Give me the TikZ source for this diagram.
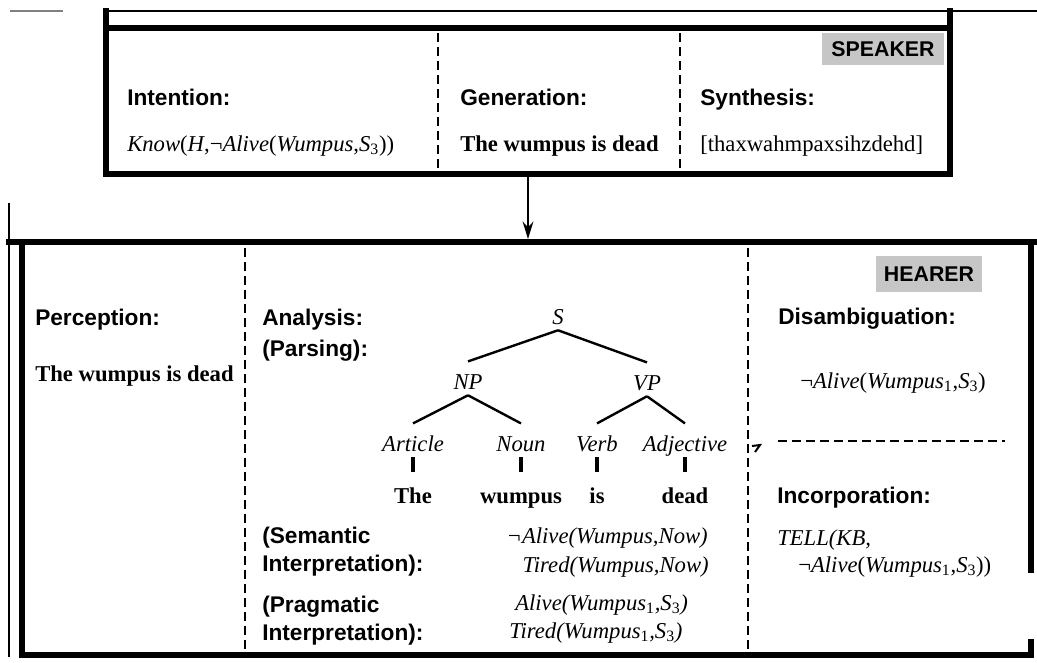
\documentclass[tikz,border=0pt]{standalone}
\usepackage{fontspec}
\setmainfont{Liberation Serif}
\setsansfont{Liberation Sans}
\usetikzlibrary{arrows.meta}
\newcommand{\sbs}[1]{\textsubscript{\upshape #1}}
\tikzset{
  lab/.style={font=\sffamily\bfseries\fontsize{17}{20}\selectfont, anchor=base west, inner sep=0pt},
  txt/.style={font=\fontsize{17}{20}\selectfont, anchor=base west, inner sep=0pt},
  btxt/.style={font=\bfseries\fontsize{17}{20}\selectfont, anchor=base west, inner sep=0pt},
  tree/.style={font=\itshape\fontsize{17}{20}\selectfont, anchor=base, inner xsep=0pt, inner ysep=4.5pt, text height=16pt, text depth=0pt},
  word/.style={font=\bfseries\fontsize{17}{20}\selectfont, anchor=base, inner sep=0pt, text height=23pt, text depth=0pt},
  tag/.style={fill=gray!45, font=\sffamily\bfseries\fontsize{16}{18}\selectfont, inner sep=0pt},
  thickline/.style={line width=4.5pt, line cap=rect},
  thinline/.style={line width=1.2pt},
  sep/.style={line width=1.6pt, dash pattern=on 7pt off 3.5pt},
  hsep/.style={line width=2pt, dash pattern=on 7pt off 3.5pt},
  edge/.style={line width=1.8pt},
  bar/.style={line width=2.4pt}
}
\begin{document}
\begin{tikzpicture}[x=0.75pt,y=-0.75pt]
\useasboundingbox (0,0) rectangle (1037,662);
% ---------- speaker box ----------
\coordinate (tl0) at (10,11); \coordinate (tl1) at (63,11);
\draw[thinline, gray] (tl0) -- (tl1);
\coordinate (sTL) at (106,11); \coordinate (sTR) at (950,11); \coordinate (sEdge) at (1037,11);
\coordinate (sBL) at (106,174); \coordinate (sBR) at (950,174);
\coordinate (sML) at (106,28); \coordinate (sMR) at (950,28);
\draw[line width=1.8pt] (sTL) -- (sEdge);
\draw[thickline] (sTL) -- (sBL) -- (sBR) -- (sTR);
\draw[thickline] (sML) -- (sMR);
\coordinate (d1a) at (438,33); \coordinate (d1b) at (438,170);
\coordinate (d2a) at (680,33); \coordinate (d2b) at (680,170);
\draw[sep] (d1a) -- (d1b);
\draw[sep] (d2a) -- (d2b);
\node[tag, minimum width=92pt, minimum height=24pt] (speaker) at (883,49) {SPEAKER};
\node[lab] (intent) at (127,105) {Intention:};
\node[lab] (gen) at (460,105) {Generation:};
\node[lab] (syn) at (700,105) {Synthesis:};
\node[txt] (know) at (127,151) {\textit{Know}(\textit{H},¬\textit{Alive}(\textit{Wumpus},\textit{S}\sbs{3}))};
\node[btxt] (gentext) at (460,151) {The wumpus is dead};
\node[txt] (syntext) at (700,151) {[thaxwahmpaxsihzdehd]};
% ---------- arrow ----------
\coordinate (arrS) at (528,177); \coordinate (arrE) at (528,239);
\draw[edge, -{Stealth[length=13pt,width=8pt]}] (arrS) -- (arrE);
% ---------- hearer box ----------
\coordinate (hOut0) at (9,203); \coordinate (hOut1) at (9,657);
\draw[thinline] (hOut0) -- (hOut1);
\coordinate (hTL) at (9,242); \coordinate (hTR) at (1037,242);
\draw[thickline] (hTL) -- (hTR);
\coordinate (hL0) at (22,242); \coordinate (hL1) at (22,655);
\coordinate (hB1) at (1031,655);
\draw[thickline] (hL0) -- (hL1) -- (hB1);
\coordinate (hR0) at (1031,242); \coordinate (hR1) at (1031,570);
\draw[thickline] (hR0) -- (hR1);
\coordinate (hR2) at (1031,642);
\draw[thickline] (hR2) -- (hB1);
\coordinate (e1a) at (245,248); \coordinate (e1b) at (245,652);
\coordinate (e2a) at (748,248); \coordinate (e2b) at (748,652);
\draw[sep] (e1a) -- (e1b);
\draw[sep] (e2a) -- (e2b);
\coordinate (mk0) at (752,446); \coordinate (mk1) at (760,445); \coordinate (mk2) at (755,452);
\draw[line width=1.5pt] (mk0) -- (mk1) -- (mk2);
\coordinate (hd0) at (778,441); \coordinate (hd1) at (1005,441);
\draw[hsep] (hd0) -- (hd1);
% left column
\node[lab] (perc) at (35,325) {Perception:};
\node[btxt] (perctext) at (35,381) {The wumpus is dead};
% middle column
\node[lab] (anal) at (262,325) {Analysis:};
\node[lab] (pars) at (262,356) {(Parsing):};
\node[lab] (sem1) at (262,543) {(Semantic};
\node[lab] (sem2) at (262,571) {Interpretation):};
\node[lab] (prag1) at (262,612) {(Pragmatic};
\node[lab] (prag2) at (262,640) {Interpretation):};
% tree
\node[tree] (S) at (558,324) {S};
\node[tree] (NP) at (468,389) {NP};
\node[tree] (VP) at (647,390) {VP};
\node[tree] (Art) at (413,451) {Article};
\node[tree] (Noun) at (521,451) {Noun};
\node[tree] (Verb) at (597,451) {Verb};
\node[tree] (Adj) at (685,451) {Adjective};
\node[word] (The) at (413,503) {The};
\node[word] (wumpus) at (521,503) {wumpus};
\node[word] (is) at (597,503) {is};
\node[word] (dead) at (685,503) {dead};
\draw[edge] (S.south) -- (NP.north);
\draw[edge] (S.south) -- (VP.north);
\draw[edge] (NP.south) -- (Art.north);
\draw[edge] (NP.south) -- (Noun.north);
\draw[edge] (VP.south) -- (Verb.north);
\draw[edge] (VP.south) -- (Adj.north);
\draw[bar] (Art.south) -- (The.north);
\draw[bar] (Noun.south) -- (wumpus.north);
\draw[bar] (Verb.south) -- (is.north);
\draw[bar] (Adj.south) -- (dead.north);
\node[txt, anchor=base east] (f1) at (708,543) {\textit{¬Alive(Wumpus,Now)}};
\node[txt, anchor=base east] (f2) at (709,572) {\textit{Tired(Wumpus,Now)}};
\node[txt] (f3) at (515,610) {\textit{Alive(Wumpus\sbs{1},S\sbs{3})}};
\node[txt] (f4) at (509,638) {\textit{Tired(Wumpus\sbs{1},S\sbs{3})}};
% right column
\node[tag, minimum width=79pt, minimum height=27pt] (hearer) at (929,274) {HEARER};
\node[lab] (dis) at (778,324) {Disambiguation:};
\node[txt] (disf) at (800,388) {¬\textit{Alive}(\textit{Wumpus}\sbs{1},\textit{S}\sbs{3})};
\node[lab] (inc) at (777,503) {Incorporation:};
\node[txt] (tell) at (777,545) {\textit{TELL(KB,}};
\node[txt] (tellf) at (798,572) {¬\textit{Alive}(\textit{Wumpus}\sbs{1},\textit{S}\sbs{3}))};
\end{tikzpicture}
\end{document}
